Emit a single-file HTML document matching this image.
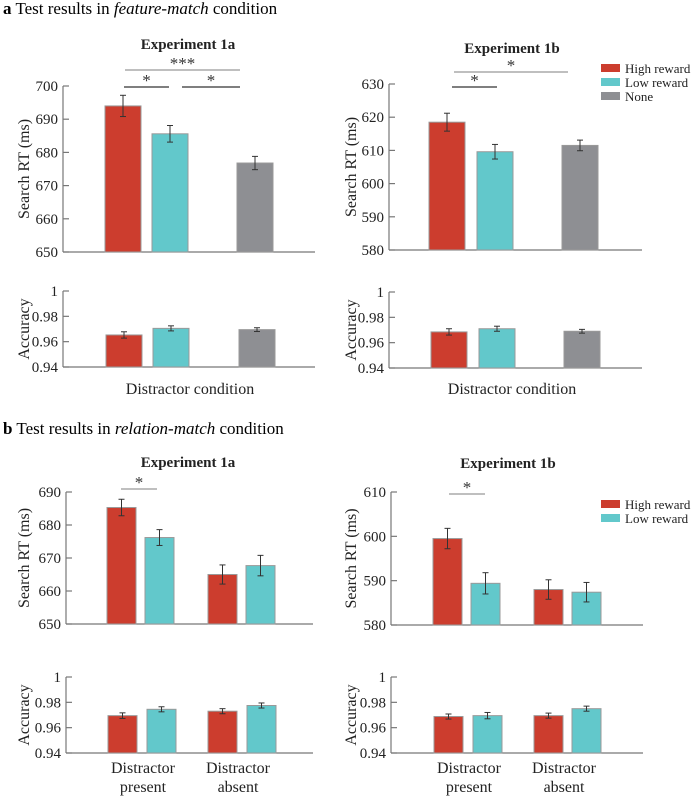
<!DOCTYPE html>
<html><head><meta charset="utf-8">
<style>
html,body{margin:0;padding:0;background:#fff;}
svg{display:block;font-family:"Liberation Serif",serif;}
</style></head>
<body>
<svg id="fig" width="691" height="797" viewBox="0 0 691 797">
<text x="3" y="14" font-size="17"><tspan font-weight="bold">a</tspan> Test results in <tspan font-style="italic">feature-match</tspan> condition</text>
<text x="3" y="434" font-size="17"><tspan font-weight="bold">b</tspan> Test results in <tspan font-style="italic">relation-match</tspan> condition</text>
</svg>
<script>
// ---- data ----
const colorsA = ["#cc3d2e","#62c8cb","#8e8f93"];
const colorsB = ["#cc3d2e","#62c8cb","#cc3d2e","#62c8cb"];
const rtTicksA1 = [650,660,670,680,690,700];
const rtTicksA2 = [580,590,600,610,620,630];
const rtTicksB1 = [650,660,670,680,690];
const rtTicksB2 = [580,590,600,610];
const accTicks = [0.94,0.96,0.98,1];
const accTickLabels = ["0.94","0.96","0.98","1"];
const rtA1 = [694.0,685.6,676.8];
const rtA1err = [3.2,2.5,2.0];
const accA1 = [0.9653,0.9705,0.9695];
const accA1err = [0.0025,0.002,0.0015];
const rtA2 = [618.5,609.6,611.5];
const rtA2err = [2.7,2.2,1.6];
const accA2 = [0.9685,0.971,0.969];
const accA2err = [0.0025,0.002,0.0015];
const rtB1 = [685.3,676.2,665.0,667.7];
const rtB1err = [2.5,2.4,2.9,3.1];
const accB1 = [0.9695,0.9745,0.973,0.9775];
const accB1err = [0.0022,0.002,0.002,0.002];
const rtB2 = [599.5,589.4,588.0,587.4];
const rtB2err = [2.3,2.4,2.2,2.2];
const accB2 = [0.9688,0.9695,0.9695,0.975];
const accB2err = [0.002,0.0025,0.002,0.002];
const legendA = ["High reward","Low reward","None"];
const legendB = ["High reward","Low reward"];

const svg = document.getElementById('fig');
const NS = "http://www.w3.org/2000/svg";
function mk(tag, attrs, name){
  const e = document.createElementNS(NS, tag);
  for (const k in attrs) e.setAttribute(k, attrs[k]);
  
  
  svg.appendChild(e);
  return e;
}
function txt(x,y,s,size,anchor,name,extra){
  const e = mk('text', Object.assign({x:x,y:y,'font-size':size,'text-anchor':anchor||'start',fill:'#222'}, extra||{}), name);
  e.textContent = s;
  return e;
}
function chart(o){
  const y = v => o.y0 - (v - o.vmin)/(o.vmax - o.vmin)*(o.y0 - o.y1);
  mk('line',{x1:o.xa,y1:o.y0,x2:o.xe,y2:o.y0,stroke:'#777','stroke-width':1.2}, o.id+'-x-axis');
  mk('line',{x1:o.xa,y1:o.y0,x2:o.xa,y2:o.y1,stroke:'#777','stroke-width':1.2}, o.id+'-y-axis');
  o.ticks.forEach((t,i)=>{
    mk('line',{x1:o.xa,y1:y(t),x2:o.xa+6,y2:y(t),stroke:'#777','stroke-width':1.2}, o.id+'-tick');
    txt(o.xa-5, y(t)+5, o.labels? o.labels[i] : String(t), 15, 'end', o.id+'-tick-label');
  });
  o.vals.forEach((v,i)=>{
    const x = o.bx[i];
    mk('rect',{x:x,y:y(v),width:o.bw,height:o.y0-y(v),fill:o.colors[i],stroke:'#999','stroke-width':1}, o.id+'-bar-'+i);
    const cx = x+o.bw/2;
    const e = o.err[i];
    mk('line',{x1:cx,y1:y(v+e),x2:cx,y2:y(v-e),stroke:'#333','stroke-width':1}, o.id+'-error-bar');
    mk('line',{x1:cx-3,y1:y(v+e),x2:cx+3,y2:y(v+e),stroke:'#333','stroke-width':1}, o.id+'-error-cap');
    mk('line',{x1:cx-3,y1:y(v-e),x2:cx+3,y2:y(v-e),stroke:'#333','stroke-width':1}, o.id+'-error-cap');
  });
  const ym = (o.y0+o.y1)/2;
  txt(o.tx, ym, o.title, 16, 'middle', o.id+'-y-axis-title', {transform:'rotate(-90 '+o.tx+' '+ym+')', dy:'5'});
}
function sig(x1,x2,yy,stars,col,name){
  mk('line',{x1:x1,y1:yy,x2:x2,y2:yy,stroke:col,'stroke-width':1.3}, name+'-line');
  txt((x1+x2)/2, yy-1, stars, 17, 'middle', name+'-stars', {fill:'#333'});
}
function legend(x,y0,labels,cols,name){
  labels.forEach((l,i)=>{
    const yy = y0 + i*14;
    mk('rect',{x:x,y:yy-4,width:19,height:8,fill:cols[i]}, name+'-swatch');
    txt(x+24, yy+5, l, 13, 'start', name+'-entry');
  });
}
// Panel a
txt(188,49,'Experiment 1a',15,'middle','exp-1a-title-a',{'font-weight':'bold'});
txt(512,53,'Experiment 1b',15,'middle','exp-1b-title-a',{'font-weight':'bold'});
chart({id:'a1-rt',xa:63,xe:315,y0:252,y1:86,vmin:650,vmax:700,ticks:rtTicksA1,vals:rtA1,err:rtA1err,bx:[105,152,237],bw:36,colors:colorsA,tx:24,title:'Search RT (ms)'});
chart({id:'a1-acc',xa:63,xe:315,y0:367,y1:291,vmin:0.94,vmax:1,ticks:accTicks,labels:accTickLabels,vals:accA1,err:accA1err,bx:[106,153,239],bw:36,colors:colorsA,tx:24,title:'Accuracy'});
chart({id:'a2-rt',xa:389,xe:642,y0:250,y1:84,vmin:580,vmax:630,ticks:rtTicksA2,vals:rtA2,err:rtA2err,bx:[429,477,562],bw:36,colors:colorsA,tx:351,title:'Search RT (ms)'});
chart({id:'a2-acc',xa:389,xe:642,y0:368,y1:292,vmin:0.94,vmax:1,ticks:accTicks,labels:accTickLabels,vals:accA2,err:accA2err,bx:[431,479,564],bw:36,colors:colorsA,tx:351,title:'Accuracy'});
sig(125,240,70,'***','#999','sig-a1-none-high');
sig(124,169,87,'*','#333','sig-a1-high-low');
sig(182,240,87,'*','#333','sig-a1-low-none');
sig(454,568,72,'*','#999','sig-a2-high-none');
sig(452,497,87,'*','#333','sig-a2-high-low');
legend(601,68,legendA,colorsA,'legend-a');
txt(190,394,'Distractor condition',16,'middle','x-axis-title-a1');
txt(512,394,'Distractor condition',16,'middle','x-axis-title-a2');
// Panel b
txt(188,467,'Experiment 1a',15,'middle','exp-1a-title-b',{'font-weight':'bold'});
txt(508,468,'Experiment 1b',15,'middle','exp-1b-title-b',{'font-weight':'bold'});
chart({id:'b1-rt',xa:66,xe:313,y0:624,y1:492,vmin:650,vmax:690,ticks:rtTicksB1,vals:rtB1,err:rtB1err,bx:[107,145,208,246],bw:29,colors:colorsB,tx:24,title:'Search RT (ms)'});
chart({id:'b1-acc',xa:66,xe:313,y0:753,y1:677,vmin:0.94,vmax:1,ticks:accTicks,labels:accTickLabels,vals:accB1,err:accB1err,bx:[108,147,208,247],bw:29,colors:colorsB,tx:24,title:'Accuracy'});
chart({id:'b2-rt',xa:391,xe:643,y0:625,y1:492,vmin:580,vmax:610,ticks:rtTicksB2,vals:rtB2,err:rtB2err,bx:[433,471,534,572],bw:29,colors:colorsB,tx:351,title:'Search RT (ms)'});
chart({id:'b2-acc',xa:391,xe:643,y0:753,y1:677,vmin:0.94,vmax:1,ticks:accTicks,labels:accTickLabels,vals:accB2,err:accB2err,bx:[434,473,534,572],bw:29,colors:colorsB,tx:351,title:'Accuracy'});
sig(121,157,489,'*','#999','sig-b1-present');
sig(449,485,494,'*','#999','sig-b2-present');
legend(601,504,legendB,colorsB,'legend-b');
txt(143,773,'Distractor',16,'middle','x-label-b1-present');
txt(143,792,'present',16,'middle','x-label-b1-present-2');
txt(238,773,'Distractor',16,'middle','x-label-b1-absent');
txt(238,792,'absent',16,'middle','x-label-b1-absent-2');
txt(469,773,'Distractor',16,'middle','x-label-b2-present');
txt(469,792,'present',16,'middle','x-label-b2-present-2');
txt(564,773,'Distractor',16,'middle','x-label-b2-absent');
txt(564,792,'absent',16,'middle','x-label-b2-absent-2');
</script>
</body></html>
